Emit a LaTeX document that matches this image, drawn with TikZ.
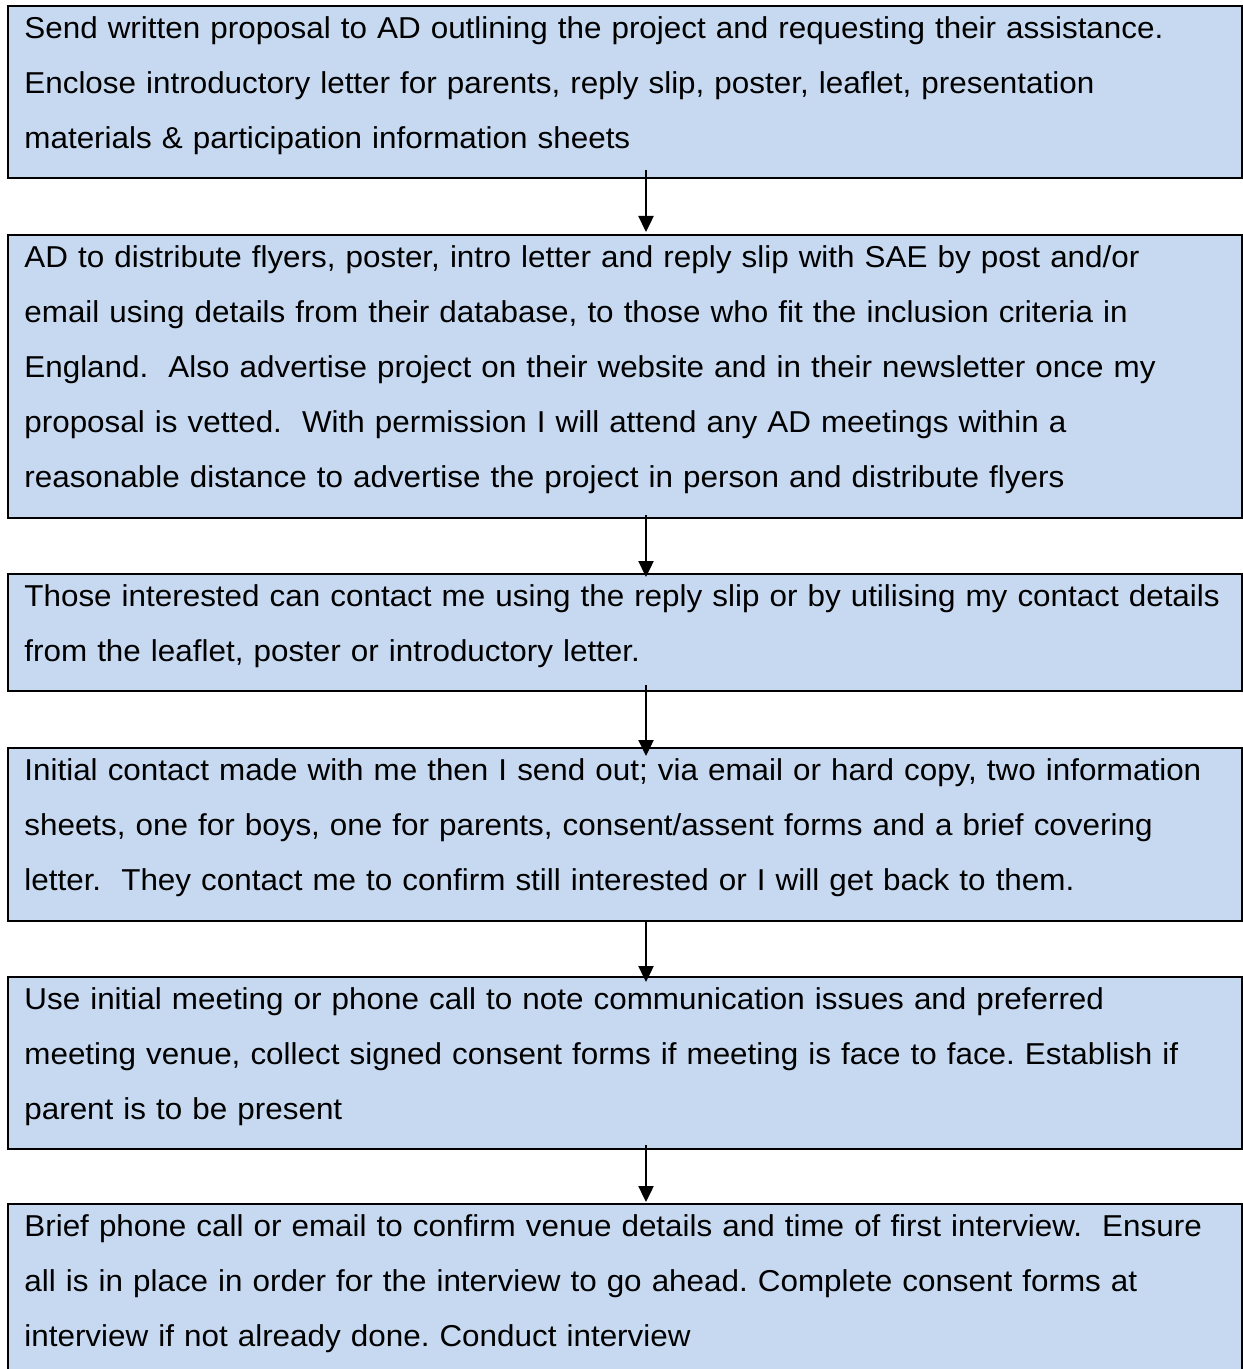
\documentclass[tikz,border=0pt]{standalone}
\usepackage{fontspec}
\setmainfont[FakeStretch=1.04]{Liberation Sans}
\usetikzlibrary{arrows.meta}
\definecolor{boxfill}{RGB}{198,217,240}
\frenchspacing
\begin{document}
\begin{tikzpicture}[x=1pt,y=1pt,
  stagebox/.style={draw=black, line width=1pt, fill=boxfill, rectangle,
    minimum width=617pt, inner sep=0pt, anchor=north west},
  stagetext/.style={anchor=north west, inner sep=0pt, text width=612pt,
    align=left, font=\fontsize{15.1pt}{27.5pt}\selectfont},
  flowarrow/.style={line width=1.2pt, -{Triangle[length=8pt,width=7.5pt]}}
]
\useasboundingbox (0,0) rectangle (621,-684.5);

% stage boxes
\node[stagebox, minimum height=86pt]   (b1) at (3.5,-2.5) {};
\node[stagebox, minimum height=141.5pt](b2) at (3.5,-117) {};
\node[stagebox, minimum height=58.5pt] (b3) at (3.5,-286.5) {};
\node[stagebox, minimum height=86.5pt] (b4) at (3.5,-373.5) {};
\node[stagebox, minimum height=86pt]   (b5) at (3.5,-488) {};
\node[stagebox, minimum height=90pt]   (b6) at (3.5,-601.5) {};

% stage texts
\node[stagetext] (t1) at ([xshift=8.5pt]b1.north west) {\noindent\rule{0pt}{16.6pt}Send written proposal to AD outlining the project and requesting their assistance.\\
Enclose introductory letter for parents, reply slip, poster, leaflet, presentation\\
materials \& participation information sheets};

\node[stagetext] (t2) at ([xshift=8.5pt]b2.north west) {\noindent\rule{0pt}{16.6pt}AD to distribute flyers, poster, intro letter and reply slip with SAE by post and/or\\
email using details from their database, to those who fit the inclusion criteria in\\
England.\ \ Also advertise project on their website and in their newsletter once my\\
proposal is vetted.\ \ With permission I will attend any AD meetings within a\\
reasonable distance to advertise the project in person and distribute flyers};

\node[stagetext] (t3) at ([xshift=8.5pt]b3.north west) {\noindent\rule{0pt}{16.6pt}Those interested can contact me using the reply slip or by utilising my contact details\\
from the leaflet, poster or introductory letter.};

\node[stagetext] (t4) at ([xshift=8.5pt]b4.north west) {\noindent\rule{0pt}{16.6pt}Initial contact made with me then I send out; via email or hard copy, two information\\
sheets, one for boys, one for parents, consent/assent forms and a brief covering\\
letter.\ \ They contact me to confirm still interested or I will get back to them.};

\node[stagetext] (t5) at ([xshift=8.5pt]b5.north west) {\noindent\rule{0pt}{16.6pt}Use initial meeting or phone call to note communication issues and preferred\\
meeting venue, collect signed consent forms if meeting is face to face. Establish if\\
parent is to be present};

\node[stagetext] (t6) at ([xshift=8.5pt]b6.north west) {\noindent\rule{0pt}{16.6pt}Brief phone call or email to confirm venue details and time of first interview.\ \ Ensure\\
all is in place in order for the interview to go ahead. Complete consent forms at\\
interview if not already done. Conduct interview};

% connectors between stages
\draw[flowarrow] ([xshift=10.5pt,yshift=4.5pt]b1.south) -- ([xshift=10.5pt,yshift=1pt]b2.north);
\draw[flowarrow] ([xshift=10.5pt,yshift=2pt]b2.south) -- ([xshift=10.5pt,yshift=-2pt]b3.north);
\draw[flowarrow] ([xshift=10.5pt,yshift=3.5pt]b3.south) -- ([xshift=10.5pt,yshift=-4.5pt]b4.north);
\draw[flowarrow] ([xshift=10.5pt,yshift=0pt]b4.south) -- ([xshift=10.5pt,yshift=-3pt]b5.north);
\draw[flowarrow] ([xshift=10.5pt,yshift=2.5pt]b5.south) -- ([xshift=10.5pt,yshift=0.5pt]b6.north);
\end{tikzpicture}
\end{document}
